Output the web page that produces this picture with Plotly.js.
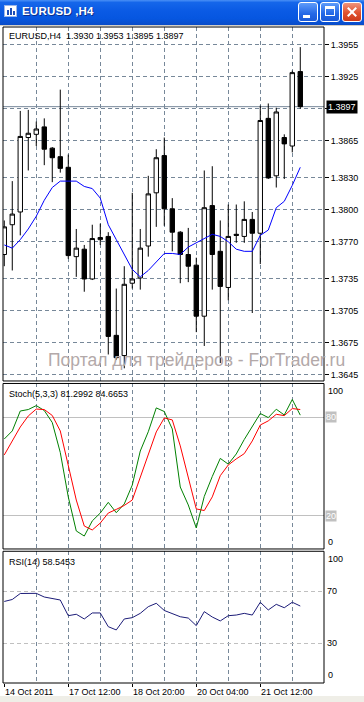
<!DOCTYPE html>
<html><head><meta charset="utf-8">
<script src="https://cdn.plot.ly/plotly-3.0.1.min.js"></script>
<style>
html,body{margin:0;padding:0;background:#fff;}
#wrap{position:relative;width:364px;height:702px;overflow:hidden;background:#fff;}
#chart{position:absolute;left:0;top:0;width:364px;height:702px;}
#tb{position:absolute;left:0;top:0;width:364px;height:25px;z-index:5;
 background:linear-gradient(to bottom,#4a90f6 0%,#1566ea 10%,#0a5ae4 45%,#0656e0 75%,#0a4cc8 100%);}
#sep{position:absolute;left:0;top:25px;width:364px;height:1px;background:#d4d0c8;z-index:5;}
#tbtext{position:absolute;left:22px;top:5px;font:bold 11.5px "Liberation Sans",Arial,sans-serif;color:#fff;text-shadow:1px 1px 0 #0b2e8c;letter-spacing:0.2px;}
#icon{position:absolute;left:4px;top:5px;width:13px;height:12px;background:#fff;border:1px solid #9bb6e8;box-sizing:border-box;}
#icon i{position:absolute;bottom:1px;width:2px;background:#1e4fb8;}
.btn{position:absolute;top:2px;width:20px;height:20px;border:1px solid #fff;border-radius:3px;box-sizing:border-box;
 background:linear-gradient(to bottom,#5f9cfa,#2468e6 60%,#1b5ad8);}
.btn.close{background:linear-gradient(to bottom,#f0947c,#e0522f 55%,#cc3a1a);}
#bmin i{position:absolute;left:4px;top:12px;width:7px;height:3px;background:#fff;}
#bmax i{position:absolute;left:4px;top:3px;width:10px;height:10px;border:1px solid #fff;border-top-width:3px;box-sizing:border-box;}
#bcls i{position:absolute;left:8px;top:3px;width:2px;height:12px;background:#fff;}
#bcls i.a{transform:rotate(45deg);} #bcls i.b{transform:rotate(-45deg);}
#bottom{position:absolute;left:0;top:696px;width:364px;height:6px;background:#efeee7;z-index:5;}
</style>
</head><body>
<div id="wrap">
 <div id="chart"></div>
 <div id="tb">
  <div id="icon"><i style="left:2px;height:5px"></i><i style="left:5px;height:7px"></i><i style="left:8px;height:4px"></i></div>
  <div id="tbtext">EURUSD ,H4</div>
  <div class="btn" id="bmin" style="left:298px"><i></i></div>
  <div class="btn" id="bmax" style="left:320px"><i></i></div>
  <div class="btn close" id="bcls" style="left:342px"><i class="a"></i><i class="b"></i></div>
 </div>
 <div id="sep"></div>
 <div id="bottom"></div>
</div>
<script>
// ---------- data ----------
const symbolLabel = 'EURUSD,H4';
const barIndex = [0,1,2,3,4,5,6,7,8,9,10,11,12,13,14,15,16,17,18,19,20,21,22,23,24,25,26,27,28,29,30,31,32,33,34,35,36,37];
const openPrices  = [1.3758,1.3786,1.3798,1.3868,1.3871,1.3878,1.3858,1.3850,1.3840,1.3756,1.3763,1.3735,1.3772,1.3775,1.3682,1.3663,1.3731,1.3736,1.3766,1.3816,1.3851,1.3801,1.3779,1.3758,1.3748,1.3700,1.3804,1.3761,1.3727,1.3777,1.3775,1.3791,1.3778,1.3886,1.3832,1.3868,1.3860,1.3930];
const highPrices  = [1.3790,1.3827,1.3893,1.3894,1.3883,1.3886,1.3859,1.3913,1.3852,1.3782,1.3767,1.3786,1.3787,1.3779,1.3726,1.3747,1.3816,1.3782,1.3832,1.3857,1.3868,1.3811,1.3780,1.3783,1.3755,1.3837,1.3841,1.3790,1.3805,1.3805,1.3808,1.3798,1.3898,1.3900,1.3896,1.3871,1.3931,1.3953];
const lowPrices   = [1.3747,1.3743,1.3776,1.3837,1.3860,1.3842,1.3826,1.3835,1.3754,1.3737,1.3723,1.3734,1.3767,1.3664,1.3659,1.3651,1.3726,1.3725,1.3756,1.3784,1.3785,1.3761,1.3731,1.3732,1.3685,1.3672,1.3725,1.3656,1.3715,1.3769,1.3769,1.3703,1.3749,1.3829,1.3821,1.3829,1.3854,1.3895];
const closePrices = [1.3784,1.3796,1.3869,1.3872,1.3876,1.3857,1.3849,1.3839,1.3757,1.3764,1.3735,1.3773,1.3774,1.3681,1.3661,1.3730,1.3735,1.3764,1.3815,1.3849,1.3801,1.3779,1.3758,1.3747,1.3700,1.3802,1.3758,1.3728,1.3775,1.3776,1.3791,1.3778,1.3884,1.3830,1.3892,1.3862,1.3929,1.3897];
const maValues    = [1.3767,1.3764,1.3772,1.3782,1.3794,1.3809,1.3821,1.3827,1.3827,1.3827,1.3822,1.3820,1.3811,1.3786,1.3772,1.3758,1.3744,1.3737,1.3743,1.3751,1.3759,1.3759,1.3758,1.3765,1.3769,1.3773,1.3777,1.3775,1.3770,1.3763,1.3761,1.3761,1.3776,1.3781,1.3802,1.3808,1.3823,1.3840];
const stochMain   = [66.8,71.7,83.8,84.7,87.1,84.1,76.8,58.6,31.6,10.9,7.8,17.0,21.8,28.3,22.0,27.3,38.8,59.5,71.2,85.7,83.5,72.9,37.6,26.7,12.7,31.9,44.0,55.0,51.5,57.7,66.5,74.7,82.3,79.8,84.9,81.4,90.8,81.3];
const stochSignal = [57.1,65.2,74.1,80.8,85.0,84.7,81.1,71.7,51.0,29.7,13.9,11.5,15.7,21.8,24.0,26.4,29.7,43.1,57.1,71.1,79.6,78.4,62.6,42.8,24.3,23.3,31.6,44.5,51.0,54.7,57.9,65.6,75.3,77.8,81.8,81.0,85.3,84.7];
const rsiValues   = [62.0,63.5,68.1,68.2,68.2,65.4,64.3,63.1,51.1,52.2,48.6,53.2,53.2,42.7,40.2,48.6,49.6,52.9,58.0,60.6,55.1,52.4,50.3,49.3,43.5,54.2,50.1,47.1,51.1,51.6,52.9,51.6,61.4,55.5,59.8,57.2,61.4,58.5];
const stochHeader = 'Stoch(5,3,3) 81.2992 84.6653';
const rsiHeader   = 'RSI(14) 58.5453';
const priceTicks  = [1.3955,1.3925,1.3895,1.3865,1.3830,1.3800,1.3770,1.3735,1.3705,1.3675,1.3645];
// the 1.3895 label is covered by the current-price box in the picture
const priceTickText = ['1.3955','1.3925','','1.3865','1.3830','1.3800','1.3770','1.3735','1.3705','1.3675','1.3645'];
const stochLevels = [80,20];
const rsiLevels   = [70,30];
const stochScale  = [100,0];
const rsiScale    = [100,0];
const gridBars    = [4,8,12,16,20,24,28,32,36];
const xTickBars   = [0,8,16,24,32];
const xTickLabels = ['14 Oct 2011','17 Oct 12:00','18 Oct 20:00','20 Oct 04:00','21 Oct 12:00'];
const watermark   = 'Портал для трейдеров - ForTrader.ru';

// ---------- layout ----------
const FONT = '"Liberation Sans", Arial, sans-serif';
const GRID = '#778899';
const DASH = '4px,3px';
const dMain = [0.4604, 1], dStoch = [0.2043, 0.4566], dRsi = [0, 0.2008];
const NB = '\u00a0';

const traces = [
 {type:'candlestick', x:barIndex, open:openPrices, high:highPrices, low:lowPrices, close:closePrices,
  xaxis:'x', yaxis:'y', whiskerwidth:0, hoverinfo:'skip',
  increasing:{line:{color:'#000',width:1}, fillcolor:'#fff'},
  decreasing:{line:{color:'#000',width:1}, fillcolor:'#000'}},
 {type:'scatter', mode:'lines', x:barIndex, y:maValues, xaxis:'x', yaxis:'y', line:{color:'#0000ff', width:1}, hoverinfo:'skip'},
 {type:'scatter', mode:'lines', x:barIndex, y:stochMain, xaxis:'x', yaxis:'y2', line:{color:'#008000', width:1}, hoverinfo:'skip'},
 {type:'scatter', mode:'lines', x:barIndex, y:stochSignal, xaxis:'x', yaxis:'y2', line:{color:'#ff0000', width:1}, hoverinfo:'skip'},
 {type:'scatter', mode:'lines', x:barIndex, y:rsiValues, xaxis:'x', yaxis:'y3', line:{color:'#1c1c78', width:1}, hoverinfo:'skip'}
];

const last = barIndex.length - 1;
const bid = closePrices[last];
const annotations = [];
const shapes = [];

[dMain, dStoch, dRsi].forEach(d => shapes.push({type:'rect', xref:'paper', yref:'paper', x0:0, x1:1, y0:d[0], y1:d[1],
  line:{color:'#000', width:1}, fillcolor:'rgba(0,0,0,0)', layer:'above'}));
shapes.push({type:'line', xref:'paper', yref:'y', x0:0, x1:1, y0:bid, y1:bid, line:{color:GRID, width:1}, layer:'below'});

annotations.push({xref:'paper', yref:'paper', x:0.0125, y:0.9863, xanchor:'left', yanchor:'middle', showarrow:false,
  text: symbolLabel + NB + NB + [openPrices[last], highPrices[last], lowPrices[last], closePrices[last]].map(v => v.toFixed(4)).join(NB),
  font:{family:FONT, size:9, color:'#000'}});
annotations.push({xref:'paper', yref:'paper', x:0.0125, y:0.4413, xanchor:'left', yanchor:'middle', showarrow:false,
  text: stochHeader.replace(/ /g, NB), font:{family:FONT, size:9, color:'#000'}});
annotations.push({xref:'paper', yref:'paper', x:0.0125, y:0.1852, xanchor:'left', yanchor:'middle', showarrow:false,
  text: rsiHeader.replace(/ /g, NB), font:{family:FONT, size:9, color:'#000'}});
annotations.push({xref:'paper', yref:'paper', x:0.137, y:0.4925, xanchor:'left', yanchor:'middle', showarrow:false, borderpad:0,
  text: watermark.replace(/ /g, NB), font:{family:FONT, size:17.5, color:'#b3a9a9'}});
annotations.push({xref:'paper', yref:'y', x:1, y:bid, xanchor:'left', yanchor:'middle', xshift:2, showarrow:false,
  text: bid.toFixed(4), bgcolor:'#000', borderpad:1, font:{family:FONT, size:9, color:'#fff'}});

stochScale.forEach(v => annotations.push({xref:'paper', yref:'y2', x:1, y:v, xanchor:'left', yanchor: v > 50 ? 'top' : 'bottom',
  xshift:2, showarrow:false, text:String(v), font:{family:FONT, size:9, color:'#000'}}));
stochLevels.forEach(v => annotations.push({xref:'paper', yref:'y2', x:1, y:v, xanchor:'left', yanchor:'middle',
  xshift:1, showarrow:false, text:String(v), bgcolor:'#c0c0c0', borderpad:0, font:{family:FONT, size:9, color:'#fff'}}));
rsiScale.forEach(v => annotations.push({xref:'paper', yref:'y3', x:1, y:v, xanchor:'left', yanchor: v > 50 ? 'top' : 'bottom',
  xshift:2, showarrow:false, text:String(v), font:{family:FONT, size:9, color:'#000'}}));
rsiLevels.forEach(v => annotations.push({xref:'paper', yref:'y3', x:1, y:v, xanchor:'left', yanchor:'middle',
  xshift:1, showarrow:false, text:String(v), font:{family:FONT, size:9, color:'#000'}}));
xTickBars.forEach((b, i) => annotations.push({xref:'x', yref:'paper', x:b, y:0, xanchor:'left', yanchor:'top',
  xshift:-1, yshift:-2, showarrow:false, text:xTickLabels[i].replace(/ /g, NB), font:{family:FONT, size:9, color:'#000'}}));

const layout = {
  width:364, height:702,
  margin:{l:3, r:40, t:27, b:19, pad:0},
  paper_bgcolor:'rgba(0,0,0,0)', plot_bgcolor:'#fff',
  showlegend:false, dragmode:false,
  font:{family:FONT, size:9, color:'#000'},
  boxgap:0.45, boxgroupgap:0,
  xaxis:{range:[-0.16, 39.965], anchor:'y3', tickmode:'array', tickvals:gridBars, showticklabels:false, ticks:'',
    showgrid:true, gridcolor:GRID, griddash:DASH, gridwidth:1, zeroline:false, showline:false,
    rangeslider:{visible:false},
    minor:{tickmode:'array', tickvals:xTickBars, ticks:'outside', ticklen:3, tickcolor:'#000', showgrid:false}},
  yaxis:{domain:dMain, range:[1.36391, 1.39719], side:'right', anchor:'x', tickmode:'array', tickvals:priceTicks,
    ticktext:priceTickText, ticks:'outside', ticklen:4, tickcolor:'#000', tickfont:{family:FONT, size:9, color:'#000'},
    showgrid:true, gridcolor:GRID, griddash:DASH, zeroline:false, showline:false},
  yaxis2:{domain:dStoch, range:[-0.06, 100.55], anchor:'x', tickmode:'array', tickvals:stochLevels, showticklabels:false,
    ticks:'', showgrid:true, gridcolor:'#c0c0c0', zeroline:false, showline:false},
  yaxis3:{domain:dRsi, range:[-0.4, 100.4], anchor:'x', tickmode:'array', tickvals:rsiLevels, showticklabels:false,
    ticks:'', showgrid:true, gridcolor:'#c0c0c0', griddash:DASH, zeroline:false, showline:false},
  shapes:shapes, annotations:annotations
};

Plotly.newPlot('chart', traces, layout, {staticPlot:true, displayModeBar:false});
</script>
</body></html>
